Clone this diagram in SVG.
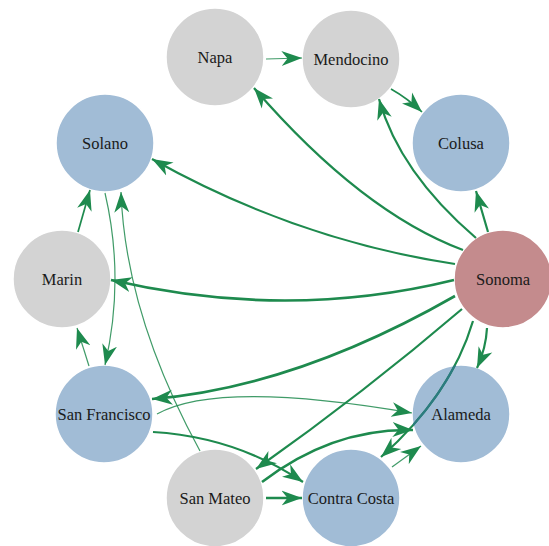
<svg xmlns="http://www.w3.org/2000/svg" width="549" height="546" viewBox="0 0 549 546">
<style>
.node circle{stroke:#ffffff;stroke-width:1.5}
.gray{fill:#d3d3d3}
.blue{fill:#a1bcd6}
.red{fill:#c48b8d}
.node text{font-family:"Liberation Serif","Times New Roman",serif;font-size:16.5px;fill:#1a1a1a;text-anchor:middle}
.e{fill:none;stroke:#1e8a4e;marker-end:url(#arr)}
.t{stroke-width:1.2;stroke-opacity:0.85}
.m{stroke-width:1.7}
.k{stroke-width:2.2}
.b{stroke-width:2.6}
</style>
<defs>
<marker id="arr" markerUnits="userSpaceOnUse" markerWidth="21" markerHeight="16" refX="20.5" refY="8" orient="auto" viewBox="0 0 21 16">
<path d="M0,0.5 L20.5,8 L0,15.5 L6,8 Z" fill="#1e8a4e"/>
</marker>
<clipPath id="alclip"><circle cx="461" cy="414" r="49"/></clipPath>
</defs>
<g id="nodes">
<g id="napa" class="node"><circle class="gray" cx="215" cy="57" r="49"/><text x="215" y="63">Napa</text></g>
<g id="mendocino" class="node"><circle class="gray" cx="351" cy="59" r="49"/><text x="351" y="65">Mendocino</text></g>
<g id="colusa" class="node"><circle class="blue" cx="461" cy="143" r="49"/><text x="461" y="149">Colusa</text></g>
<g id="solano" class="node"><circle class="blue" cx="105" cy="143" r="49"/><text x="105" y="149">Solano</text></g>
<g id="marin" class="node"><circle class="gray" cx="62" cy="279" r="49"/><text x="62" y="285">Marin</text></g>
<g id="sonoma" class="node"><circle class="red" cx="503" cy="279" r="49"/><text x="503" y="285">Sonoma</text></g>
<g id="sanfrancisco" class="node"><circle class="blue" cx="104" cy="414" r="49"/><text x="104" y="420">San Francisco</text></g>
<g id="alameda" class="node"><circle class="blue" cx="461" cy="414" r="49"/><text x="461" y="420">Alameda</text></g>
<g id="sanmateo" class="node"><circle class="gray" cx="215" cy="498" r="49"/><text x="215" y="504">San Mateo</text></g>
<g id="contracosta" class="node"><circle class="blue" cx="351" cy="498" r="49"/><text x="351" y="504">Contra Costa</text></g>
</g>
<g id="edges">
<path class="e t" d="M266,59 L302,58"/>
<path class="e m" d="M391,89 Q407,98 422,112"/>
<path class="e k" d="M463,250 Q361.5,212 254,88"/>
<path class="e k" d="M476,238 Q399.5,172.5 379,99"/>
<path class="e k" d="M488,232 L476,191"/>
<path class="e k" d="M455,264 Q296.5,240 152,159"/>
<path class="e b" d="M454,280 Q287.5,321 111,280"/>
<path class="e k" d="M487,328 Q486,348 477,368"/>
<path class="e b" d="M455,296 Q296,387 152,399"/>
<path class="e k" d="M462,309 Q365,392 256,469"/>
<path class="e k" d="M473,321 Q451,395 381,457"/>
<path class="e m" d="M78,232 L90,190"/>
<path class="e t" d="M105,193 Q125,279 105,365"/>
<path class="e t" d="M200,451 Q125.5,314.5 121,192"/>
<path class="e t" d="M89,366 L77,328"/>
<path class="e t" d="M157,414 C200,390 290,392 412,413"/>
<path class="e k" d="M153,432 Q236,437 303,482"/>
<path class="e b" d="M266,498 L302,498"/>
<path class="e b" d="M262,482 Q332.5,428 413,430"/>
<path class="e t" d="M392,467 L421,446"/>
<path d="M473,321 Q451,395 381,457" fill="none" stroke="#2c7b80" stroke-width="2.2" clip-path="url(#alclip)"/>
</g>
</svg>
